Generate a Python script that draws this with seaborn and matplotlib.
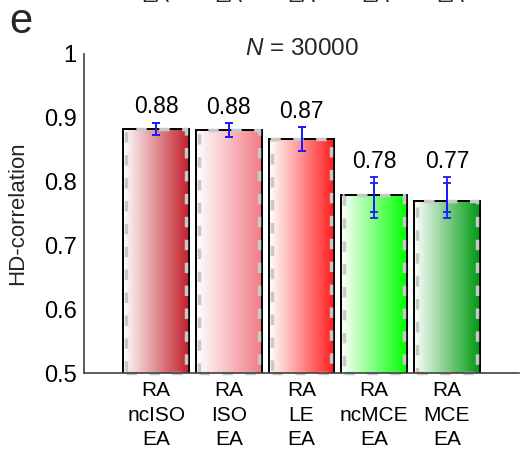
import numpy as np
import pandas as pd
import matplotlib
matplotlib.use("Agg")
import matplotlib.pyplot as plt
import seaborn as sns
from matplotlib.patches import Rectangle
from matplotlib.colors import to_rgb

# ---- data ----
categories = ['RA\nncISO\nEA', 'RA\nISO\nEA', 'RA\nLE\nEA', 'RA\nncMCE\nEA', 'RA\nMCE\nEA']
means = [0.883, 0.881, 0.866, 0.779, 0.770]
value_labels = ['0.88', '0.88', '0.87', '0.78', '0.77']
err_center = [0.8827, 0.881, 0.8666, 0.7746, 0.7746]
err_outer = [0.0096, 0.0105, 0.0186, 0.032, 0.032]
err_inner = [0.0096, 0.0105, 0.0186, 0.023, 0.023]
bar_colors = ['#c21f2b', '#f17b85', '#ff1a1a', '#00ff00', '#009a12']
yticks = [0.5, 0.6, 0.7, 0.8, 0.9, 1.0]
ytick_labels = ['0.5', '0.6', '0.7', '0.8', '0.9', '1']

sns.set_style("white")
plt.rcParams['font.family'] = ['Liberation Sans', 'DejaVu Sans']
plt.rcParams['mathtext.fontset'] = 'custom'
plt.rcParams['mathtext.rm'] = 'Liberation Sans'
plt.rcParams['mathtext.it'] = 'Liberation Sans:italic'

W, H = 521, 449
fig = plt.figure(figsize=(W / 100, H / 100), dpi=100)
ax = fig.add_axes([83.5 / W, 1 - 373 / H, (519.5 - 83.5) / W, (373 - 54) / H])

df = pd.DataFrame({'method': categories, 'value': means})
sns.barplot(data=df, x='method', y='value', order=categories, ax=ax,
            width=0.9, facecolor='none', edgecolor='black', linewidth=1.4,
            errorbar=None, zorder=3)

ymin, ymax = 0.5, 1.0
bars = list(ax.patches)
for i, p in enumerate(bars):
    x0, w, h = p.get_x(), p.get_width(), p.get_height()
    c = np.array(to_rgb(bar_colors[i]))
    t = np.linspace(0, 1, 256)[None, :, None]
    grad = (1 - t) * np.ones(3) + t * c
    im = ax.imshow(grad, extent=[x0, x0 + w, ymin, h], aspect='auto',
                   origin='lower', zorder=1, interpolation='bilinear')
    im.set_clip_path(p)
    # grey dashed inner outline
    gw = w * 0.82 / 0.9
    gx = x0 + (w - gw) / 2
    r = Rectangle((gx, ymin), gw, h - ymin, facecolor='none',
                  edgecolor='#c8c8c8', linewidth=2.5,
                  linestyle=(0, (3.0, 3.6)), zorder=4, clip_on=False)
    ax.add_patch(r)

xs = np.arange(len(categories))
ax.errorbar(xs, err_center, yerr=err_outer, fmt='none', ecolor='#1a1aff',
            elinewidth=1.3, capsize=2.6, capthick=1.3, zorder=6)
ax.errorbar(xs, err_center, yerr=err_inner, fmt='none', ecolor='#1a1aff',
            elinewidth=1.3, capsize=2.6, capthick=1.3, zorder=6)

for i in range(len(categories)):
    ax.text(xs[i], err_center[i] + err_outer[i] + 0.015, value_labels[i],
            ha='center', va='baseline', fontsize=16.5, color='black')

ax.set_xlim(-1, 5)
ax.set_ylim(ymin, ymax)
ax.set_yticks(yticks)
ax.set_yticklabels(ytick_labels, fontsize=17)
ax.set_xticks(list(xs) + [5])
ax.set_xticklabels(categories + [''], fontsize=15, linespacing=1.35)
ax.set_xlabel('')
ax.set_ylabel('')
ax.tick_params(axis='both', direction='in', length=4, width=1.1,
               color='#404040', labelcolor='black')
ax.tick_params(axis='x', pad=6)
ax.tick_params(axis='y', pad=5)
for s in ['top', 'right']:
    ax.spines[s].set_visible(False)
for s in ['left', 'bottom']:
    ax.spines[s].set_color('#404040')
    ax.spines[s].set_linewidth(1.2)
    ax.spines[s].set_zorder(5)

ax.text(2, 0.998, '$N$ = 30000', ha='center', va='baseline', fontsize=17.5)

fig.text(18 / W, 1 - 213.5 / H, 'HD-correlation', rotation=90,
         ha='center', va='center', fontsize=16)
fig.text(9 / W, 1 - 33 / H, 'e', ha='left', va='baseline', fontsize=30)

for xc in [155, 228, 301, 375, 450]:
    fig.text(xc / W, 1 - 2 / H, 'EA', ha='center', va='baseline', fontsize=15)

fig.savefig('out.png', dpi=100)
